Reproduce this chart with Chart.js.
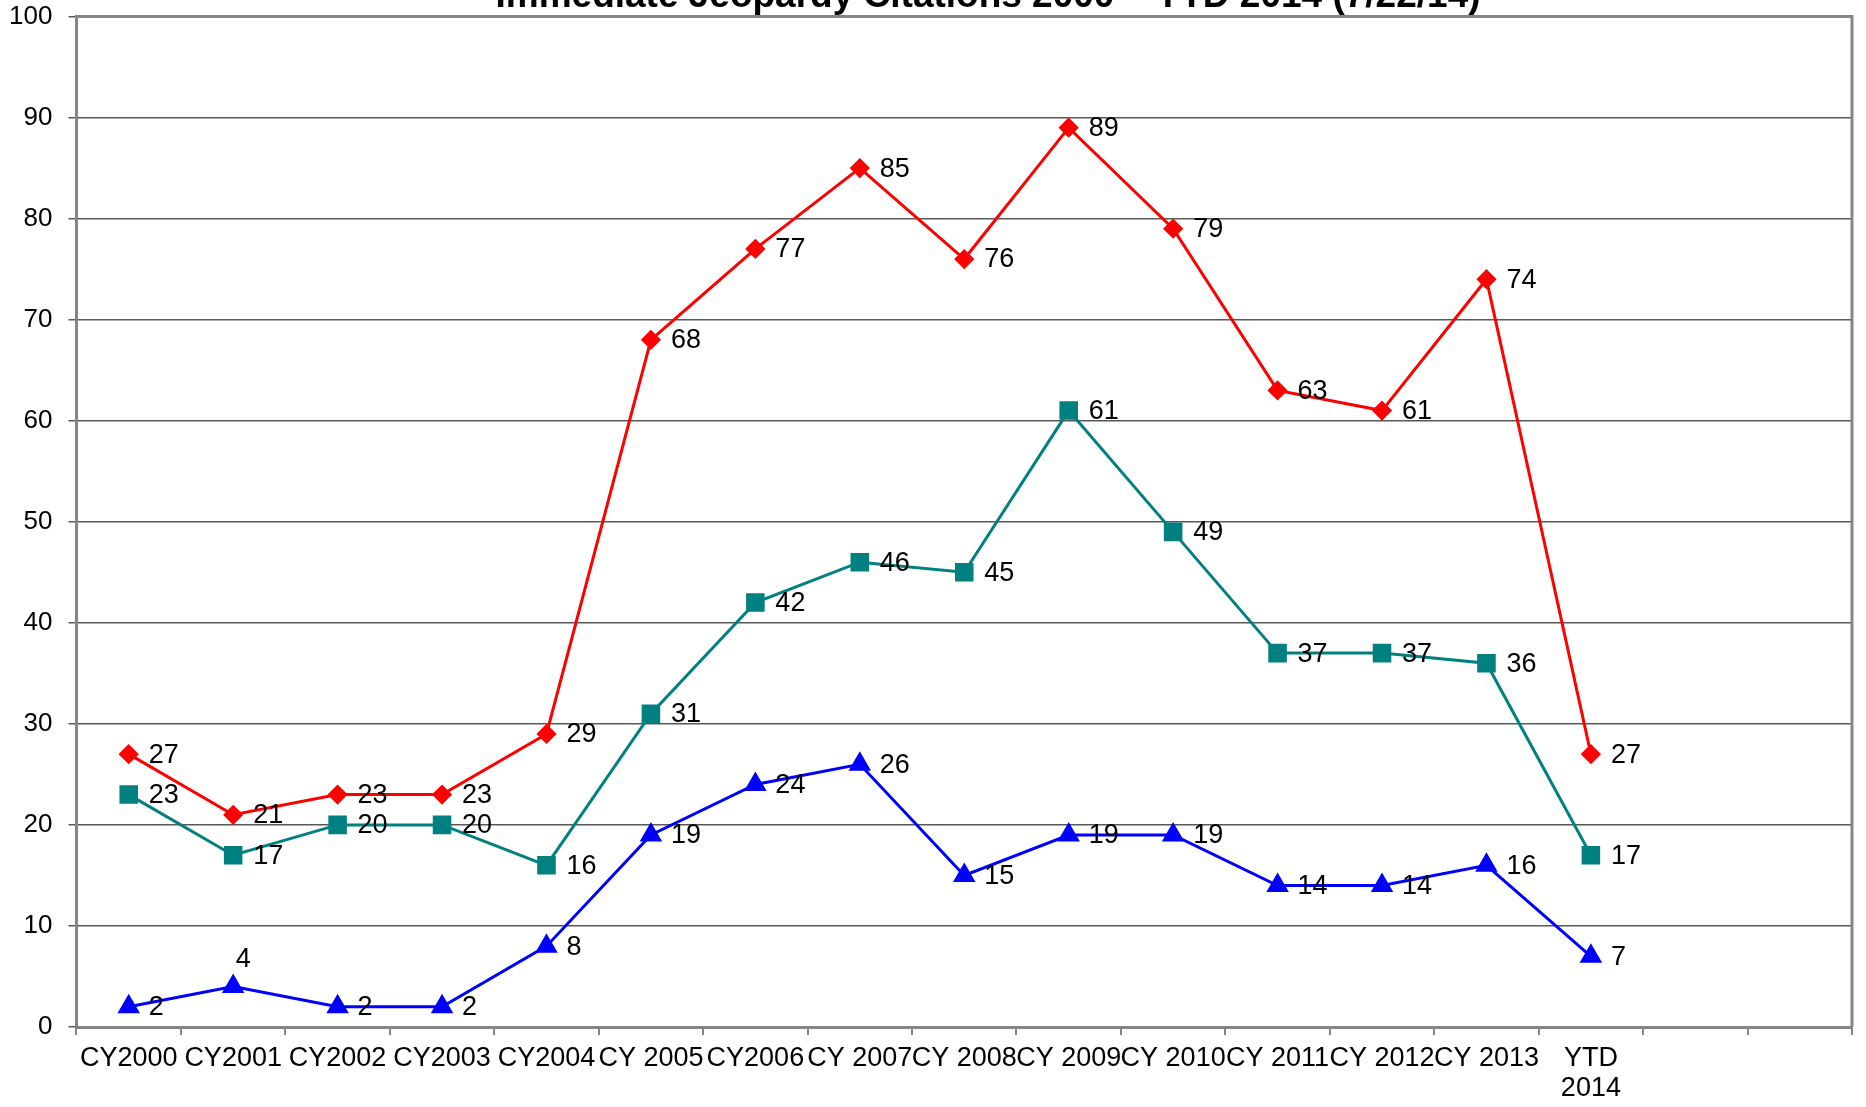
<!DOCTYPE html>
<html>
<head>
<meta charset="utf-8">
<script src="https://cdn.jsdelivr.net/npm/chart.js@4/dist/chart.umd.min.js"></script>
<style>
  html, body { margin: 0; padding: 0; background: #ffffff; }
  #wrap { width: 1866px; height: 1107px; position: relative; }
</style>
</head>
<body>
<div id="wrap"><canvas id="c" width="1866" height="1107"></canvas></div>
<script>
const chartTitle = 'Immediate Jeopardy Citations 2000 \u2013 YTD 2014 (7/22/14)';
const categories = ['CY2000', 'CY2001', 'CY2002', 'CY2003', 'CY2004', 'CY 2005', 'CY2006', 'CY 2007',
  'CY 2008', 'CY 2009', 'CY 2010', 'CY 2011', 'CY 2012', 'CY 2013', ['YTD', '2014'], '', ''];
const redSeries = [27, 21, 23, 23, 29, 68, 77, 85, 76, 89, 79, 63, 61, 74, 27];
const tealSeries = [23, 17, 20, 20, 16, 31, 42, 46, 45, 61, 49, 37, 37, 36, 17];
const blueSeries = [2, 4, 2, 2, 8, 19, 24, 26, 15, 19, 19, 14, 14, 16, 7];
const yTicks = [0, 10, 20, 30, 40, 50, 60, 70, 80, 90, 100];

const FONT = "'Liberation Sans', Arial, sans-serif";

const labelPlugin = {
  id: 'valueLabels',
  afterDatasetsDraw(chart) {
    const ctx = chart.ctx;
    ctx.save();
    ctx.font = '27px ' + FONT;
    ctx.fillStyle = '#000000';
    chart.data.datasets.forEach((ds, di) => {
      const meta = chart.getDatasetMeta(di);
      const above = ds.labelAbove || [];
      meta.data.forEach((pt, i) => {
        const v = ds.data[i];
        if (v === null || v === undefined) return;
        if (above.includes(i)) {
          ctx.textAlign = 'center';
          ctx.textBaseline = 'middle';
          ctx.fillText(String(v), pt.x + 10, pt.y - 27);
        } else {
          ctx.textAlign = 'left';
          ctx.textBaseline = 'middle';
          ctx.fillText(String(v), pt.x + 20, pt.y + 1);
        }
      });
    });
    ctx.restore();
  }
};

const framePlugin = {
  id: 'frame',
  afterDraw(chart) {
    const a = chart.chartArea;
    const ctx = chart.ctx;
    ctx.save();
    ctx.strokeStyle = '#858585';
    ctx.lineWidth = 3;
    ctx.beginPath();
    ctx.moveTo(a.left, a.top);
    ctx.lineTo(a.right, a.top);
    ctx.lineTo(a.right, a.bottom);
    ctx.stroke();
    // title (partly cut off at top, as in the reference)
    ctx.font = 'bold 37px ' + FONT;
    ctx.fillStyle = '#000000';
    ctx.textAlign = 'center';
    ctx.textBaseline = 'alphabetic';
    ctx.fillText(chartTitle, 988, 7);
    ctx.restore();
  }
};

new Chart(document.getElementById('c'), {
  type: 'line',
  data: {
    labels: categories,
    datasets: [
      {
        data: redSeries,
        borderColor: '#ff0000',
        backgroundColor: '#ff0000',
        borderWidth: 3,
        pointStyle: 'rectRot',
        pointRadius: 8,
        pointHoverRadius: 8,
        tension: 0,
        fill: false
      },
      {
        data: tealSeries,
        borderColor: '#008080',
        backgroundColor: '#008080',
        borderWidth: 3,
        pointStyle: 'rect',
        pointRadius: 11,
        pointHoverRadius: 11,
        tension: 0,
        fill: false
      },
      {
        data: blueSeries,
        borderColor: '#0000ff',
        backgroundColor: '#0000ff',
        borderWidth: 3,
        pointStyle: 'triangle',
        pointRadius: 10,
        pointHoverRadius: 10,
        tension: 0,
        fill: false,
        labelAbove: [1]
      }
    ]
  },
  options: {
    responsive: false,
    animation: false,
    events: [],
    layout: { padding: { left: 0, right: 10, top: 16.5, bottom: 0 } },
    plugins: {
      legend: { display: false },
      title: { display: false },
      tooltip: { enabled: false }
    },
    scales: {
      x: {
        type: 'category',
        offset: true,
        grid: {
          offset: true,
          drawOnChartArea: false,
          drawTicks: true,
          tickLength: 8,
          color: '#858585',
          lineWidth: 2
        },
        border: { display: true, color: '#858585', width: 3 },
        ticks: {
          autoSkip: false,
          maxRotation: 0,
          minRotation: 0,
          padding: 8,
          color: '#000000',
          font: { family: FONT, size: 27, lineHeight: 1.12 }
        },
        afterFit(scale) {
          scale.height = 80;
          scale.paddingLeft = 0;
          scale.paddingRight = 0;
        }
      },
      y: {
        min: 0,
        max: 100,
        afterBuildTicks(scale) { scale.ticks = yTicks.map(v => ({ value: v })); },
        grid: {
          drawOnChartArea: true,
          drawTicks: true,
          tickLength: 8,
          color: '#585858',
          lineWidth: 1.5
        },
        border: { display: true, color: '#858585', width: 3 },
        ticks: {
          padding: 16,
          color: '#000000',
          font: { family: FONT, size: 26 }
        },
        afterFit(scale) {
          scale.width = 76.5;
          scale.paddingTop = 0;
          scale.paddingBottom = 0;
        }
      }
    }
  },
  plugins: [labelPlugin, framePlugin]
});
</script>
</body>
</html>
